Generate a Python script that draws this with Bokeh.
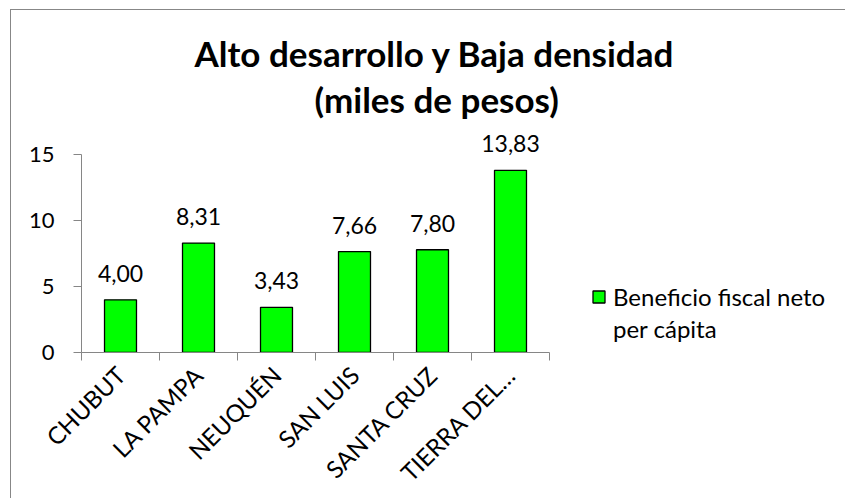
import numpy as np
from bokeh.plotting import figure
from bokeh.models import (ColumnDataSource, LabelSet, Legend, LegendItem, Range1d,
                          FixedTicker, Title)
from bokeh.core.properties import value
from bokeh.embed import file_html
from bokeh.resources import INLINE

categories = ["CHUBUT", "LA PAMPA", "NEUQUÉN", "SAN LUIS", "SANTA CRUZ", "TIERRA DEL…"]
values = [4.00, 8.31, 3.43, 7.66, 7.80, 13.83]
value_labels = ["4,00", "8,31", "3,43", "7,66", "7,80", "13,83"]
y_ticks = [0, 5, 10, 15]
y_max = 15
series_name = ["Beneficio fiscal neto", "per cápita"]
title_line1 = "Alto desarrollo y Baja densidad"
title_line2 = "(miles de pesos)"

FONT = "Lato"
AXIS = "#868686"

# layout (pixels)
W, H = 835, 489
axis_w, axis_h = 468, 201          # drawn extent of the x and y axes
left, right_pad, top, frame_h = 70, 5, 111, 235
frame_w = W - left - right_pad
n = len(categories)
x_end = n * frame_w / axis_w
y_end = y_max * frame_h / axis_h

xs = np.arange(n) + 0.5
src = ColumnDataSource(dict(x=xs, top=values, lab=value_labels, cat=categories))

p = figure(width=W, height=H, output_backend="svg", toolbar_location=None,
           x_range=Range1d(0, x_end), y_range=Range1d(0, y_end),
           min_border_left=left, min_border_right=right_pad, min_border_top=top,
           min_border_bottom=H - top - frame_h)
p.margin = (9, 0, 0, 10)
p.styles = {"border-left": "1px solid #878787", "border-top": "1px solid #878787"}
p.border_fill_color = "white"
p.outline_line_color = None
p.grid.visible = False

r = p.vbar(x="x", top="top", width=0.41, bottom=0, source=src,
           fill_color="#00FF00", line_color="black", line_width=1.3)
# empty companion renderer: carries the legend's second text line, draws nothing
r_blank = p.vbar(x=[], top=[], width=0.41, fill_color=None, line_color=None)

labels = LabelSet(x="x", y="top", text="lab", source=src, text_align="center",
                  text_baseline="alphabetic", y_offset=18, text_font=value(FONT),
                  text_font_size=value("23px"), text_color="black")
p.add_layout(labels)

# axes
p.yaxis.ticker = FixedTicker(ticks=y_ticks)
p.yaxis.bounds = (0, y_max)
p.yaxis.axis_line_color = AXIS
p.yaxis.major_tick_line_color = AXIS
p.yaxis.major_tick_out = 8
p.yaxis.major_tick_in = 0
p.yaxis.minor_tick_line_color = None
p.yaxis.major_label_standoff = 19
p.yaxis.major_label_text_font = FONT
p.yaxis.major_label_text_font_size = "22px"
p.yaxis.major_label_text_color = "black"

p.xaxis.ticker = FixedTicker(ticks=list(xs), minor_ticks=list(range(n + 1)))
p.xaxis.bounds = (0, n)
p.xaxis.major_label_overrides = {float(x): c for x, c in zip(xs, categories)}
p.xaxis.axis_line_color = AXIS
p.xaxis.major_tick_line_color = None
p.xaxis.major_tick_out = 0
p.xaxis.major_tick_in = 0
p.xaxis.minor_tick_line_color = AXIS
p.xaxis.minor_tick_out = 8
p.xaxis.minor_tick_in = 0
p.xaxis.major_label_orientation = np.pi / 4
p.xaxis.major_label_standoff = 10
p.xaxis.major_label_text_font = FONT
p.xaxis.major_label_text_font_size = "24px"
p.xaxis.major_label_text_color = "black"

# title (second line first: later titles sit farther from the plot)
t2 = Title(text=title_line2, align="left", offset=233, text_font=FONT,
           text_font_size="35px", text_font_style="bold", text_color="black",
           standoff=4)
t1 = Title(text=title_line1, align="left", offset=113, text_font=FONT,
           text_font_size="35px", text_font_style="bold", text_color="black",
           standoff=0)
p.add_layout(t2, "above")
p.add_layout(t1, "above")

# legend
legend = Legend(items=[LegendItem(label=series_name[0], renderers=[r]),
                       LegendItem(label=series_name[1], renderers=[r_blank])],
                location=(510, 9), padding=0, margin=0, spacing=3,
                border_line_color=None, background_fill_color=None,
                glyph_width=15, glyph_height=15, label_standoff=7,
                label_text_font=FONT, label_text_font_size="24px",
                label_text_color="black")
p.add_layout(legend, "center")

open("out.html", "w").write(file_html(p, INLINE))
